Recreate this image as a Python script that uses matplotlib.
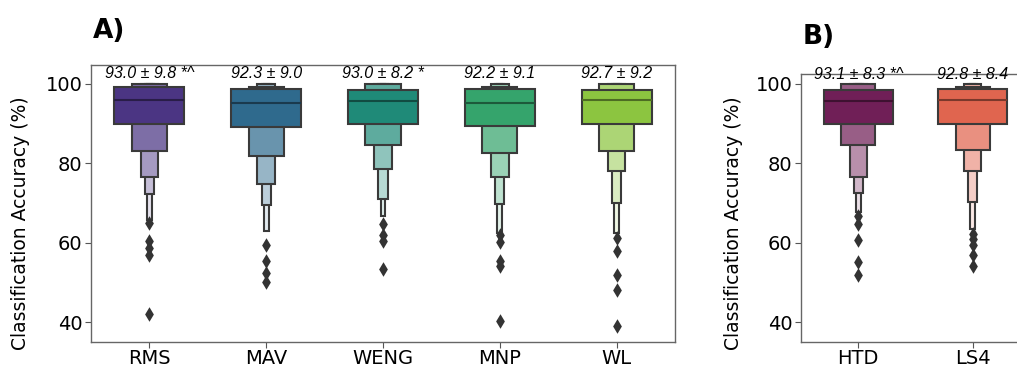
import matplotlib.pyplot as plt
import numpy as np
from matplotlib.colors import to_rgb

# panel A
cats_a = ['RMS', 'MAV', 'WENG', 'MNP', 'WL']
colors_a = ['#4b3583', '#2f6a8d', '#1f8a78', '#35a46c', '#8cc540']
med_a = [95.9, 95.3, 95.8, 95.3, 96.0]
# letter value boxes, from the inner (IQR) box outwards
hi_a = [[99.2, 100, 100, 100, 100],
        [98.7, 99.3, 100, 100, 100],
        [98.5, 100, 100, 100, 100],
        [98.7, 99.3, 100, 100, 100],
        [98.5, 100, 100, 100, 100]]
lo_a = [[90.0, 83.2, 76.7, 72.4, 65.8],
        [89.1, 81.9, 74.9, 69.6, 62.9],
        [90.0, 84.6, 78.6, 71.0, 66.7],
        [89.3, 82.6, 76.7, 69.8, 62.5],
        [90.0, 83.2, 78.0, 70.0, 62.5]]
out_a = [[65.0, 60.4, 58.7, 57.0, 42.2],
         [59.5, 55.4, 52.4, 50.1],
         [64.8, 62.1, 60.4, 53.4],
         [62.1, 60.1, 55.4, 54.1, 40.3],
         [61.2, 57.9, 52.0, 48.2, 39.0]]
notes_a = ['93.0 ± 9.8 *^', '92.3 ± 9.0', '93.0 ± 8.2 *', '92.2 ± 9.1', '92.7 ± 9.2']

# panel B
cats_b = ['HTD', 'LS4']
colors_b = ['#701f57', '#e0654f']
med_b = [95.8, 96.0]
hi_b = [[98.5, 100, 100, 100, 100],
        [98.7, 99.3, 100, 100, 100]]
lo_b = [[90.0, 84.6, 76.7, 72.5, 67.9],
        [90.0, 83.4, 78.0, 70.3, 63.5]]
out_b = [[66.8, 64.8, 60.6, 55.1, 52.0],
         [62.3, 61.0, 59.5, 57.0, 54.1]]
notes_b = ['93.1 ± 8.3 *^', '92.8 ± 8.4']

widths = [0.6, 0.3, 0.15, 0.078, 0.042]
mix = [1.0, 0.72, 0.5, 0.32, 0.14]
edge = '#3a3a3a'


def boxen(ax, cats, colors, med, hi, lo, out, notes, note_y):
    for i in range(len(cats)):
        c = np.array(to_rgb(colors[i]))
        for k in range(len(widths)):
            fc = c * mix[k] + (1 - mix[k])
            ax.bar(i, hi[i][k] - lo[i][k], bottom=lo[i][k], width=widths[k],
                   color=fc, edgecolor=edge, linewidth=1.5, zorder=10 - k)
        ax.hlines(med[i], i - widths[0] / 2, i + widths[0] / 2,
                  color=c * 0.55, linewidth=1.5, zorder=11)
        ax.scatter([i] * len(out[i]), out[i], marker='d', s=55,
                   color='#333333', zorder=12, linewidths=0)
        ax.text(i, note_y, notes[i], ha='center', va='center', fontsize=11.5,
                style='italic', family='Liberation Sans', zorder=13)
    ax.set_xticks(range(len(cats)))
    ax.set_xticklabels(cats, fontsize=14)
    ax.set_xlim(-0.5, len(cats) - 0.5)
    ax.set_yticks([40, 60, 80, 100])
    ax.tick_params(axis='y', labelsize=14, length=4, color='#555555', pad=2)
    ax.tick_params(axis='x', length=4, color='#555555', pad=1)
    ax.set_ylabel('Classification Accuracy (%)', fontsize=13.5)
    for s in ax.spines.values():
        s.set_color('#666666')
        s.set_linewidth(1.0)


fig = plt.figure(figsize=(10.17, 3.69), dpi=100)
ax1 = fig.add_axes([0.0895, 0.0732, 0.5742, 0.7507])
ax2 = fig.add_axes([0.7876, 0.0732, 0.2252, 0.7263])

boxen(ax1, cats_a, colors_a, med_a, hi_a, lo_a, out_a, notes_a, 102.6)
boxen(ax2, cats_b, colors_b, med_b, hi_b, lo_b, out_b, notes_b, 102.4)
ax1.set_ylim(35.05, 104.78)
ax2.set_ylim(35.05, 102.52)
ax1.yaxis.set_label_coords(-0.104, 0.43)
ax2.yaxis.set_label_coords(-0.253, 0.444)

fig.text(0.091, 0.915, 'A)', fontsize=19, fontweight='bold', va='center')
fig.text(0.789, 0.9, 'B)', fontsize=19, fontweight='bold', va='center')

plt.savefig('out.png')
